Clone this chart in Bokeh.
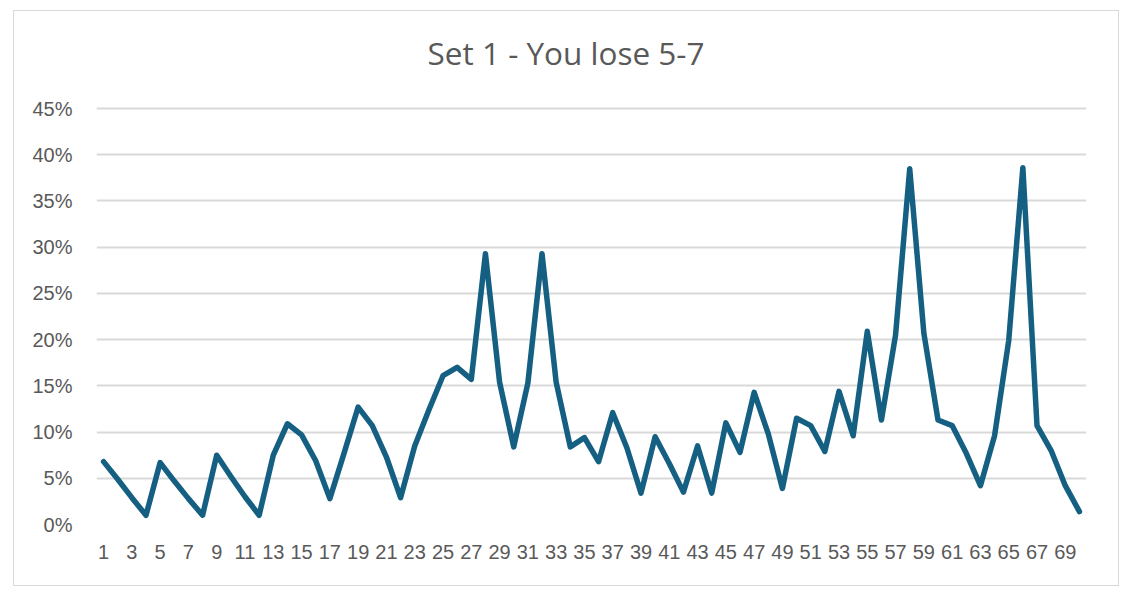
from bokeh.plotting import figure
from bokeh.models import ColumnDataSource, FixedTicker, NumeralTickFormatter, Range1d, Label
from bokeh.embed import file_html
from bokeh.resources import INLINE

# game index 1..70 and share of outcomes
games = list(range(1, 71))
share = [
    0.068, 0.049, 0.029, 0.010, 0.067, 0.047, 0.028, 0.010, 0.075, 0.052,
    0.030, 0.010, 0.075, 0.109, 0.097, 0.069, 0.028, 0.077, 0.127, 0.107,
    0.073, 0.029, 0.085, 0.124, 0.161, 0.170, 0.157, 0.293, 0.154, 0.084,
    0.153, 0.293, 0.154, 0.084, 0.094, 0.068, 0.121, 0.083, 0.034, 0.095,
    0.066, 0.035, 0.085, 0.034, 0.110, 0.078, 0.143, 0.098, 0.039, 0.115,
    0.107, 0.079, 0.144, 0.096, 0.209, 0.113, 0.205, 0.385, 0.207, 0.113,
    0.107, 0.077, 0.042, 0.096, 0.199, 0.386, 0.107, 0.080, 0.042, 0.014,
]
x_ticks = list(range(1, 70, 2))
y_ticks = [0, 0.05, 0.10, 0.15, 0.20, 0.25, 0.30, 0.35, 0.40, 0.45]
chart_title = "Set 1 - You lose 5-7"

source = ColumnDataSource(data=dict(game=games, share=share))

grey = "#595959"

# the y range runs past 45% so the title can sit inside the frame (no grid up there)
p = figure(width=1106, height=576, output_backend="svg", toolbar_location=None,
           x_range=Range1d(0.5, 70.5), y_range=Range1d(0, 0.555),
           min_border_left=82, min_border_right=34, min_border_top=0, min_border_bottom=63)
p.styles = {"border": "1px solid #d9d9d9", "margin-left": "13px", "margin-top": "10px"}

# title, centred on the whole chart rather than the plot area
title = Label(x=33.7, y=0.511, text=chart_title, text_align="center", text_baseline="middle",
              text_font="Open Sans", text_font_size="31.5px", text_color=grey)
p.add_layout(title)

# series line
p.line("game", "share", source=source, line_color="#156082", line_width=5.5,
       line_join="round", line_cap="round")

# axes
p.xaxis.ticker = FixedTicker(ticks=x_ticks)
p.yaxis.ticker = FixedTicker(ticks=y_ticks)
p.yaxis.formatter = NumeralTickFormatter(format="0%")
for ax in (p.xaxis, p.yaxis):
    ax.axis_line_color = None
    ax.major_tick_line_color = None
    ax.minor_tick_line_color = None
    ax.major_label_text_font = "Liberation Sans"
    ax.major_label_text_font_size = "20px"
    ax.major_label_text_color = grey
p.yaxis.major_label_standoff = 18
p.xaxis.major_label_standoff = 14

# grid
p.xgrid.grid_line_color = None
p.ygrid.grid_line_color = "#d9d9d9"
p.ygrid.grid_line_width = 2
p.outline_line_color = None
p.background_fill_color = "white"
p.border_fill_color = "white"

open("out.html", "w").write(file_html(p, INLINE))
